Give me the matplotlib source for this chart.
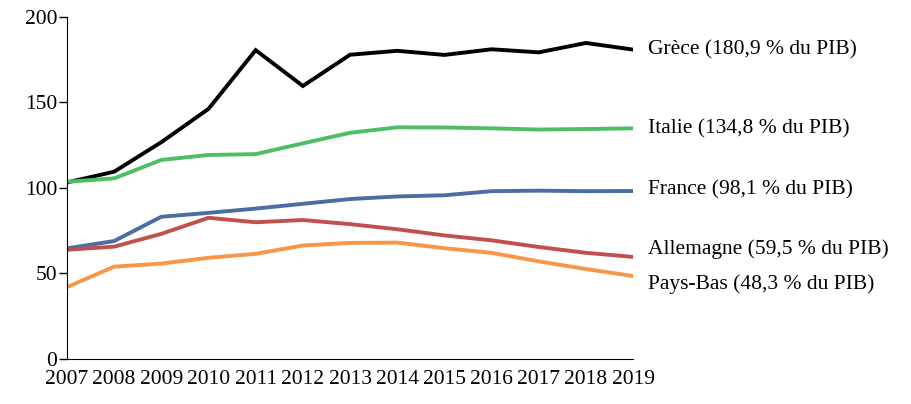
import matplotlib.pyplot as plt

plt.rcParams['font.family'] = ['Liberation Serif', 'DejaVu Serif']

years = list(range(2007, 2020))

grece = [103.1, 109.4, 126.7, 146.2, 180.6, 159.6, 177.9, 180.2, 177.8, 181.1, 179.3, 184.8, 180.9]
italie = [103.5, 105.5, 116.3, 119.2, 119.7, 126.0, 132.2, 135.4, 135.3, 134.8, 134.1, 134.4, 134.8]
france = [64.5, 68.8, 83.0, 85.3, 87.8, 90.6, 93.4, 94.9, 95.6, 98.0, 98.3, 98.0, 98.1]
allemagne = [63.7, 65.5, 73.0, 82.4, 79.8, 81.1, 78.7, 75.7, 72.1, 69.2, 65.3, 61.9, 59.5]
pays_bas = [41.8, 53.8, 55.6, 59.0, 61.3, 66.2, 67.7, 67.9, 64.6, 61.9, 56.9, 52.4, 48.3]

names = ['Grèce (180,9 % du PIB)', 'Italie (134,8 % du PIB)', 'France (98,1 % du PIB)',
         'Allemagne (59,5 % du PIB)', 'Pays-Bas (48,3 % du PIB)']
label_y = [181, 134.5, 99, 64, 43.5]
colors = ['#000000', '#4DBE64', '#4A6DA3', '#C0504D', '#F79646']

fig = plt.figure(figsize=(9.11, 4.04), dpi=100)
ax = fig.add_axes([0.0735, 0.1126, 0.6215, 0.8453])

for serie, c in zip([grece, italie, france, allemagne, pays_bas], colors):
    ax.plot(years, serie, color=c, lw=2.8, solid_joinstyle='miter')

for name, y in zip(names, label_y):
    ax.annotate(name, xy=(1.027, y), xycoords=('axes fraction', 'data'),
                va='center', ha='left', fontsize=15.5, annotation_clip=False)

ax.set_xlim(2007, 2019)
ax.set_ylim(0, 200)
ax.set_yticks([0, 50, 100, 150, 200])
ax.set_xticks(years)
ax.tick_params(axis='y', length=6, width=1, labelsize=15.5, pad=1)
ax.tick_params(axis='x', length=0, labelsize=15.5, pad=8)
ax.spines['top'].set_visible(False)
ax.spines['right'].set_visible(False)

fig.savefig('out.png', dpi=100)
